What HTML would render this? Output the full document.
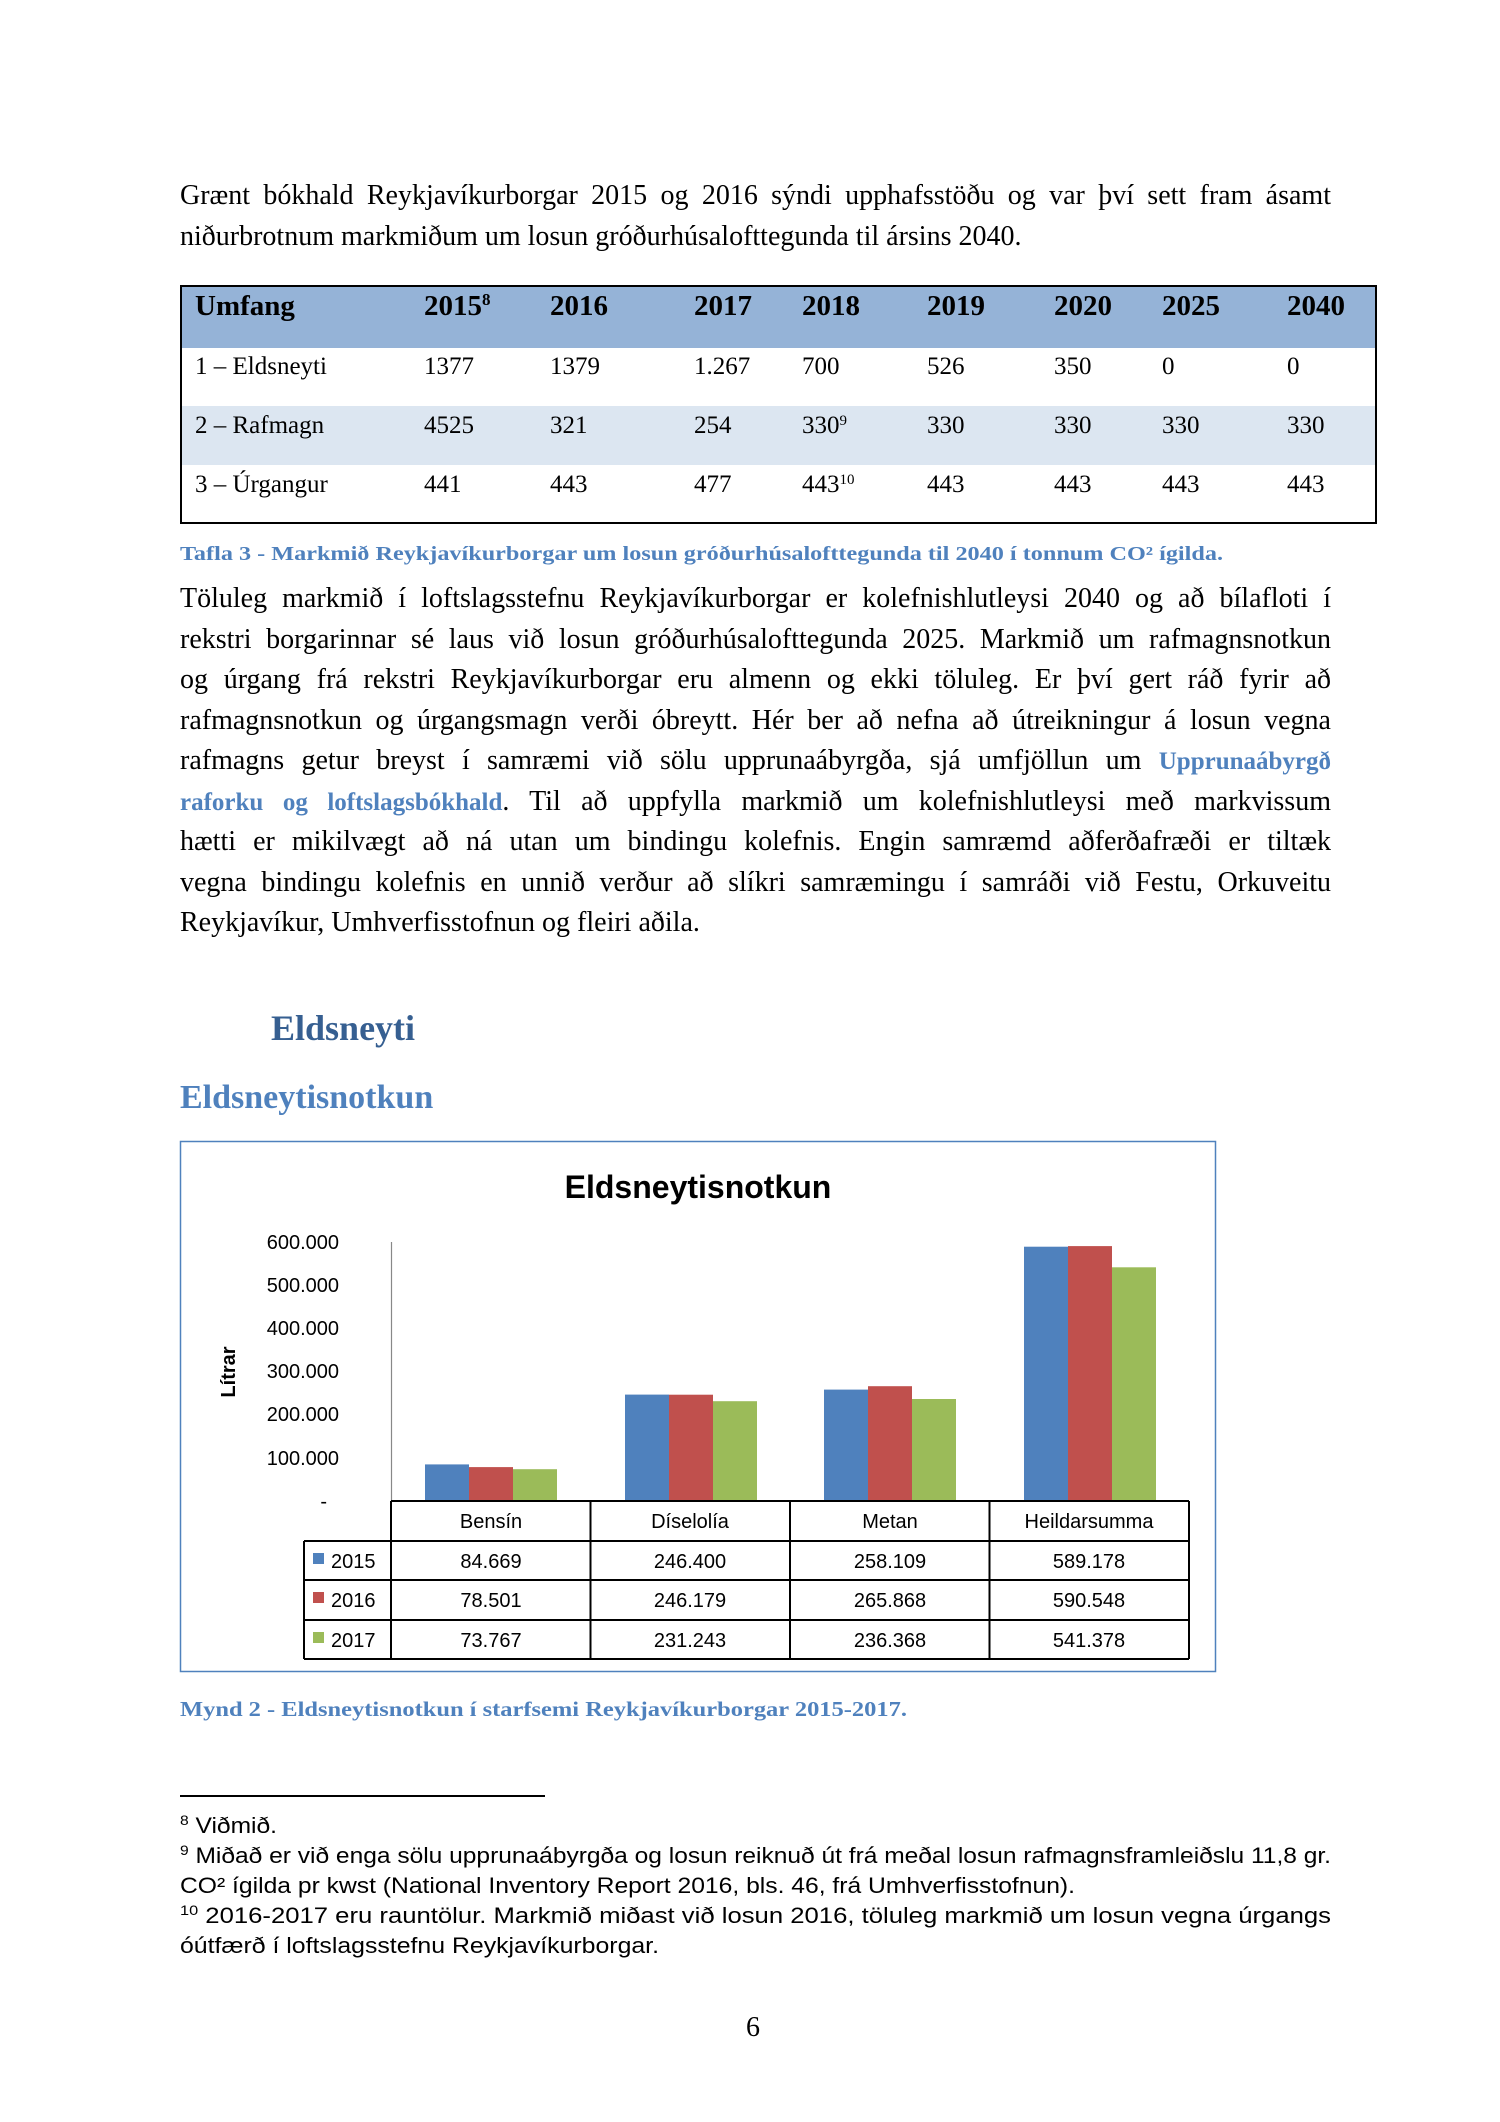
<!DOCTYPE html>
<html><head><meta charset="utf-8">
<style>
body{margin:0;background:#fff;}
#p{position:relative;width:1500px;height:2122px;overflow:hidden;background:#fff;font-family:"Liberation Serif",serif;color:#000;}
.l{position:absolute;left:180px;width:1151px;font-size:28px;line-height:40px;white-space:nowrap;}
.j{text-align:justify;text-align-last:justify;white-space:normal;}
.lk{font-family:"Liberation Serif",serif;font-weight:bold;color:#4F81BD;font-size:25px;}
.a{position:absolute;white-space:nowrap;}
</style></head><body><div id="p">
<div class="l j" style="top:176px">Grænt bókhald Reykjavíkurborgar 2015 og 2016 sýndi upphafsstöðu og var því sett fram ásamt</div>
<div class="l" style="top:217px">niðurbrotnum markmiðum um losun gróðurhúsalofttegunda til ársins 2040.</div>

<svg class="a" style="left:0;top:0" width="1500" height="570">
<rect x="180" y="285" width="1197" height="63" fill="#95B3D7"/>
<rect x="180" y="406" width="1197" height="59" fill="#DCE6F1"/>
<rect x="181" y="286" width="1195" height="237" fill="none" stroke="#000" stroke-width="2"/>
<g font-family="Liberation Serif" font-weight="bold" font-size="29" fill="#000">
<text x="195" y="315">Umfang</text><text x="424" y="315">2015<tspan font-size="17" dy="-10">8</tspan></text>
<text x="550" y="315">2016</text><text x="694" y="315">2017</text><text x="802" y="315">2018</text><text x="927" y="315">2019</text><text x="1054" y="315">2020</text><text x="1162" y="315">2025</text><text x="1287" y="315">2040</text></g>
<g font-family="Liberation Serif" font-size="25" fill="#000">
<text x="195" y="374">1 – Eldsneyti</text><text x="424" y="374">1377</text><text x="550" y="374">1379</text><text x="694" y="374">1.267</text><text x="802" y="374">700</text><text x="927" y="374">526</text><text x="1054" y="374">350</text><text x="1162" y="374">0</text><text x="1287" y="374">0</text>
<text x="195" y="433">2 – Rafmagn</text><text x="424" y="433">4525</text><text x="550" y="433">321</text><text x="694" y="433">254</text><text x="802" y="433">330<tspan font-size="15" dy="-8">9</tspan></text><text x="927" y="433">330</text><text x="1054" y="433">330</text><text x="1162" y="433">330</text><text x="1287" y="433">330</text>
<text x="195" y="492">3 – Úrgangur</text><text x="424" y="492">441</text><text x="550" y="492">443</text><text x="694" y="492">477</text><text x="802" y="492">443<tspan font-size="15" dy="-8">10</tspan></text><text x="927" y="492">443</text><text x="1054" y="492">443</text><text x="1162" y="492">443</text><text x="1287" y="492">443</text></g>
<text x="180" y="560" font-family="Liberation Serif" font-weight="bold" font-size="20" fill="#4F81BD" textLength="1043" lengthAdjust="spacingAndGlyphs">Tafla 3 - Markmið Reykjavíkurborgar um losun gróðurhúsalofttegunda til 2040 í tonnum CO² ígilda.</text>
</svg>

<div class="l j" style="top:579px">Töluleg markmið í loftslagsstefnu Reykjavíkurborgar er kolefnishlutleysi 2040 og að bílafloti í</div>
<div class="l j" style="top:620px">rekstri borgarinnar sé laus við losun gróðurhúsalofttegunda 2025. Markmið um rafmagnsnotkun</div>
<div class="l j" style="top:660px">og úrgang frá rekstri Reykjavíkurborgar eru almenn og ekki töluleg. Er því gert ráð fyrir að</div>
<div class="l j" style="top:701px">rafmagnsnotkun og úrgangsmagn verði óbreytt. Hér ber að nefna að útreikningur á losun vegna</div>
<div class="l j" style="top:741px">rafmagns getur breyst í samræmi við sölu upprunaábyrgða, sjá umfjöllun um <span class="lk">Upprunaábyrgð</span></div>
<div class="l j" style="top:782px"><span class="lk">raforku og loftslagsbókhald</span>. Til að uppfylla markmið um kolefnishlutleysi með markvissum</div>
<div class="l j" style="top:822px">hætti er mikilvægt að ná utan um bindingu kolefnis. Engin samræmd aðferðafræði er tiltæk</div>
<div class="l j" style="top:863px">vegna bindingu kolefnis en unnið verður að slíkri samræmingu í samráði við Festu, Orkuveitu</div>
<div class="l" style="top:903px">Reykjavíkur, Umhverfisstofnun og fleiri aðila.</div>

<div class="a" style="left:271px;top:1007px;font-size:36px;font-weight:bold;color:#365F91">Eldsneyti</div>
<div class="a" style="left:180px;top:1079px;font-size:34px;font-weight:bold;color:#4F81BD">Eldsneytisnotkun</div>

<svg class="a" style="left:0;top:1130px" width="1500" height="600" font-family="Liberation Sans">
<g transform="translate(0,-1130)">
<rect x="180.5" y="1141.5" width="1035" height="530" fill="#fff" stroke="#4F81BD" stroke-width="1.5"/>
<text x="698" y="1198" text-anchor="middle" font-size="32" font-weight="bold">Eldsneytisnotkun</text>
<g font-size="20" text-anchor="end">
<text x="339" y="1249">600.000</text><text x="339" y="1292">500.000</text><text x="339" y="1335">400.000</text><text x="339" y="1378">300.000</text><text x="339" y="1421">200.000</text><text x="339" y="1465">100.000</text><text x="327" y="1508">-</text></g>
<text transform="translate(235,1372) rotate(-90)" text-anchor="middle" font-size="20" font-weight="bold">Lítrar</text>
<line x1="391.5" y1="1242" x2="391.5" y2="1501" stroke="#888" stroke-width="1.2"/>
<g>
<rect x="425" y="1464.4" width="44" height="36.6" fill="#4F81BD"/><rect x="469" y="1467.1" width="44" height="33.9" fill="#C0504D"/><rect x="513" y="1469.2" width="44" height="31.8" fill="#9BBB59"/>
<rect x="625" y="1394.6" width="44" height="106.4" fill="#4F81BD"/><rect x="669" y="1394.7" width="44" height="106.3" fill="#C0504D"/><rect x="713" y="1401.2" width="44" height="99.8" fill="#9BBB59"/>
<rect x="824" y="1389.6" width="44" height="111.4" fill="#4F81BD"/><rect x="868" y="1386.2" width="44" height="114.8" fill="#C0504D"/><rect x="912" y="1399" width="44" height="102" fill="#9BBB59"/>
<rect x="1024" y="1246.7" width="44" height="254.3" fill="#4F81BD"/><rect x="1068" y="1246.1" width="44" height="254.9" fill="#C0504D"/><rect x="1112" y="1267.3" width="44" height="233.7" fill="#9BBB59"/>
</g>
<g stroke="#000" stroke-width="2" fill="none">
<line x1="391" y1="1501" x2="1189" y2="1501"/>
<line x1="304" y1="1541" x2="1189" y2="1541"/>
<line x1="304" y1="1580" x2="1189" y2="1580"/>
<line x1="304" y1="1620" x2="1189" y2="1620"/>
<line x1="304" y1="1659" x2="1189" y2="1659"/>
<line x1="304" y1="1541" x2="304" y2="1659"/>
<line x1="391" y1="1501" x2="391" y2="1659"/>
<line x1="590.5" y1="1501" x2="590.5" y2="1659"/>
<line x1="790" y1="1501" x2="790" y2="1659"/>
<line x1="989.5" y1="1501" x2="989.5" y2="1659"/>
<line x1="1189" y1="1501" x2="1189" y2="1659"/>
</g>
<g font-size="20" text-anchor="middle">
<text x="491" y="1528">Bensín</text><text x="690" y="1528">Díselolía</text><text x="890" y="1528">Metan</text><text x="1089" y="1528">Heildarsumma</text>
<text x="491" y="1568">84.669</text><text x="690" y="1568">246.400</text><text x="890" y="1568">258.109</text><text x="1089" y="1568">589.178</text>
<text x="491" y="1607">78.501</text><text x="690" y="1607">246.179</text><text x="890" y="1607">265.868</text><text x="1089" y="1607">590.548</text>
<text x="491" y="1647">73.767</text><text x="690" y="1647">231.243</text><text x="890" y="1647">236.368</text><text x="1089" y="1647">541.378</text></g>
<rect x="313" y="1553" width="11" height="11" fill="#4F81BD"/><rect x="313" y="1592" width="11" height="11" fill="#C0504D"/><rect x="313" y="1632" width="11" height="11" fill="#9BBB59"/>
<g font-size="20"><text x="331" y="1568">2015</text><text x="331" y="1607">2016</text><text x="331" y="1647">2017</text></g>
<text x="180" y="1716" font-family="Liberation Serif" font-weight="bold" font-size="21" fill="#4F81BD" textLength="727" lengthAdjust="spacingAndGlyphs">Mynd 2 - Eldsneytisnotkun í starfsemi Reykjavíkurborgar 2015-2017.</text>
</g></svg>

<svg class="a" style="left:0;top:1780px" width="1500" height="200" font-family="Liberation Sans" font-size="22">
<g transform="translate(0,-1780)">
<rect x="180" y="1795" width="365" height="2" fill="#000"/>
<text x="180" y="1833" textLength="97" lengthAdjust="spacingAndGlyphs"><tspan font-size="14" dy="-8">8</tspan><tspan dy="8"> Viðmið.</tspan></text>
<text x="180" y="1863" textLength="1151" lengthAdjust="spacingAndGlyphs"><tspan font-size="14" dy="-8">9</tspan><tspan dy="8"> Miðað er við enga sölu upprunaábyrgða og losun reiknuð út frá meðal losun rafmagnsframleiðslu 11,8 gr.</tspan></text>
<text x="180" y="1893" textLength="895" lengthAdjust="spacingAndGlyphs">CO² ígilda pr kwst (National Inventory Report 2016, bls. 46, frá Umhverfisstofnun).</text>
<text x="180" y="1923" textLength="1151" lengthAdjust="spacingAndGlyphs"><tspan font-size="14" dy="-8">10</tspan><tspan dy="8"> 2016-2017 eru rauntölur. Markmið miðast við losun 2016, töluleg markmið um losun vegna úrgangs</tspan></text>
<text x="180" y="1953" textLength="479" lengthAdjust="spacingAndGlyphs">óútfærð í loftslagsstefnu Reykjavíkurborgar.</text>
</g></svg>
<div class="a" style="left:746px;top:2012px;font-size:28px">6</div>
</div></body></html>
